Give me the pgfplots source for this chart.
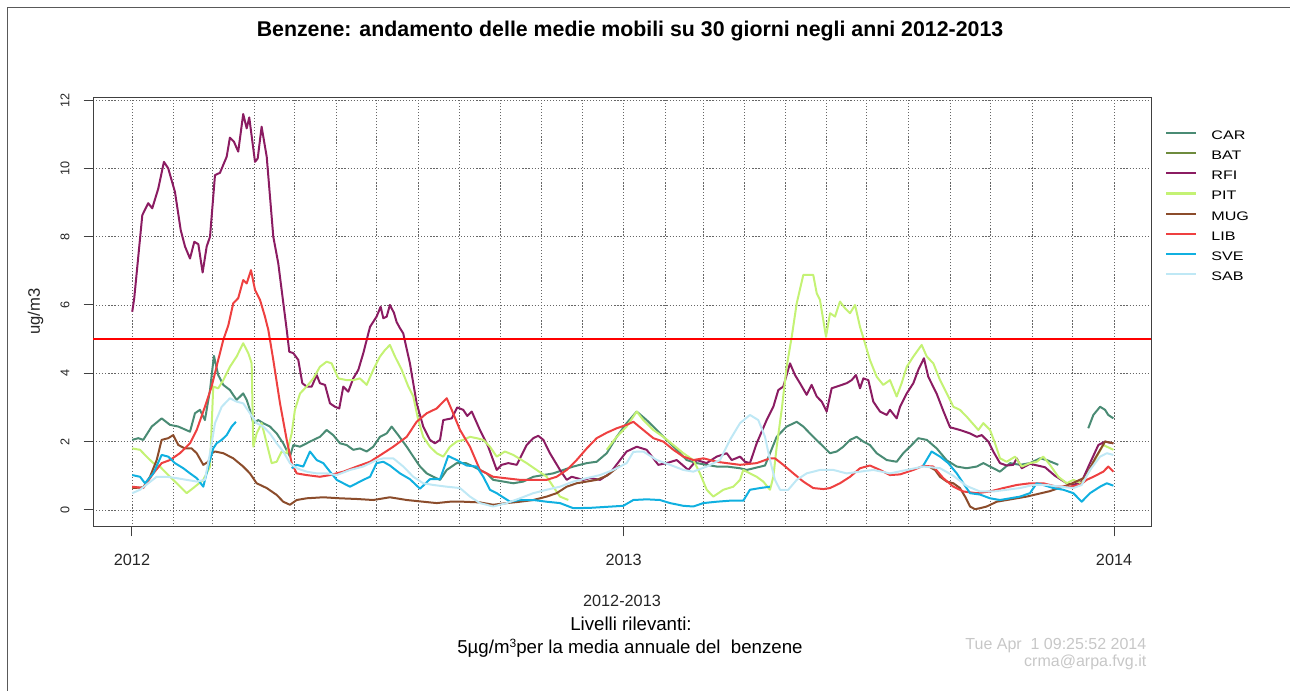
\documentclass[border=0pt]{standalone}
\usepackage{fontspec}
\setmainfont{Liberation Sans}
\newfontfamily\legfont[FakeStretch=1.3]{Liberation Sans}
\usepackage{pgfplots}
\pgfplotsset{compat=1.18}
\definecolor{cCAR}{HTML}{4A8B74}
\definecolor{cBAT}{HTML}{6E8B3D}
\definecolor{cRFI}{HTML}{8B1C62}
\definecolor{cPIT}{HTML}{C4F274}
\definecolor{cMUG}{HTML}{8B4C2B}
\definecolor{cLIB}{HTML}{EE4040}
\definecolor{cSVE}{HTML}{10B0E0}
\definecolor{cSAB}{HTML}{BFE8F5}
\begin{document}
\begin{tikzpicture}[x=0.75pt,y=0.75pt]
\path[use as bounding box] (0,0) rectangle (1290,691);
\draw[black!65, line width=0.75pt] (7,0) -- (7,683) -- (1290,683);
\begin{axis}[
  at={(69.75pt,123pt)}, anchor=south west,
  scale only axis, width=793.5pt, height=321.75pt,
  xmin=-29, xmax=758.5, ymin=-0.5, ymax=12.06,
  axis line style={black!75, line width=0.75pt},
  tick align=outside, xtick pos=bottom, ytick pos=left,
  major tick length=7pt, minor tick length=0pt,
  tick style={black!75, line width=0.75pt},
  xtick={0,366,731}, xticklabels={2012,2013,2014},
  minor xtick={31,60,91,121,152,182,213,244,274,305,335,397,425,456,486,517,547,578,609,639,670,700},
  ytick={0,2,4,6,8,10,12},
  xmajorgrids, xminorgrids, ymajorgrids,
  major grid style={black!60, line width=0.6pt, dash pattern=on 0.9pt off 1.4pt},
  minor grid style={black!60, line width=0.6pt, dash pattern=on 0.9pt off 1.4pt},
  /pgf/number format/assume math mode=true,
  xticklabel style={font=\fontsize{12.2}{14}\selectfont, text=black!85, inner sep=0pt, anchor=north, yshift=-13pt},
  yticklabel style={font=\fontsize{9.5}{11}\selectfont, text=black!85, inner sep=0pt, xshift=-10.5pt, rotate=90, anchor=south},
  unbounded coords=jump, no markers,
  every axis plot/.append style={line width=1.5pt, line join=round},
  legend style={at={(1,1)}, anchor=north west, xshift=10.5pt, yshift=-24.3pt,
    draw=none, fill=none, inner sep=0pt, outer sep=0pt,
    font=\legfont\fontsize{9.3}{10}\selectfont, row sep=8.45pt,
    nodes={inner sep=0pt, text height=6.7pt, text depth=0pt},
    /tikz/every odd column/.append style={column sep=10.7pt}},
  legend image code/.code={\draw[#1, line width=1.6pt] (0pt,1.5pt) -- (22.5pt,1.5pt);},
  legend cell align=left,
]
\addplot[cCAR] coordinates {(0.2,2.05)(4.7,2.10)(8.4,2.05)(14.7,2.44)(22.1,2.68)(28.3,2.49)(34.5,2.44)(43.2,2.29)(46.9,2.83)(50.6,2.93)(54.3,2.63)(58.1,3.51)(61.0,4.51)(64.2,3.95)(68.0,3.66)(72.9,3.51)(77.9,3.22)(82.8,3.41)(85.4,3.22)(87.8,2.93)(90.3,2.54)(94.0,2.63)(97.7,2.54)(102.7,2.44)(107.7,2.24)(112.6,1.95)(117.6,1.56)(120.1,1.90)(125.1,1.85)(132.5,2.0)(139.9,2.14)(144.9,2.34)(149.8,2.19)(154.8,1.95)(159.8,1.90)(164.7,1.76)(169.7,1.80)(174.7,1.71)(179.6,1.85)(184.6,2.14)(189.6,2.24)(193.3,2.44)(198.2,2.19)(204.5,1.85)(209.4,1.56)(214.4,1.27)(219.4,1.07)(224.3,0.97)(229.3,0.88)(234.3,1.17)(241.7,1.37)(248.6,1.37)(254.1,1.27)(264.0,1.07)(268.9,0.88)(276.4,0.83)(283.8,0.78)(291.3,0.83)(298.7,0.97)(306.2,1.02)(313.6,1.07)(321.1,1.17)(328.5,1.27)(338.5,1.37)(345.9,1.41)(353.4,1.66)(360.8,2.14)(368.2,2.54)(375.7,2.88)(383.1,2.63)(390.6,2.34)(398.0,2.05)(405.5,1.76)(412.9,1.46)(420.3,1.37)(427.8,1.32)(435.2,1.27)(442.7,1.27)(452.6,1.22)(457.6,1.17)(471.2,1.30)(479.9,2.14)(487.3,2.44)(494.8,2.58)(499.7,2.44)(507.1,2.14)(513.4,1.90)(519.6,1.66)(524.6,1.71)(529.5,1.85)(534.5,2.05)(539.4,2.14)(544.4,2.0)(549.3,1.90)(554.3,1.66)(561.8,1.46)(569.2,1.41)(574.1,1.66)(579.1,1.85)(585.3,2.10)(591.6,2.05)(599.0,1.80)(606.5,1.45)(613.9,1.27)(621.3,1.22)(628.8,1.27)(633.7,1.37)(646.1,1.12)(653.6,1.37)(661.0,1.32)(668.4,1.37)(675.9,1.51)(680.9,1.46)(689.5,1.32)(690,nan)(711.8,2.39)(715.6,2.78)(720.6,3.02)(724.3,2.93)(726.7,2.78)(730.5,2.68)};
\addlegendentry{CAR}
\addlegendimage{cBAT}
\addlegendentry{BAT}
\addplot[cRFI] coordinates {(0.2,5.80)(1.7,6.2)(7.7,8.63)(12.1,8.98)(15.1,8.83)(19.6,9.41)(23.8,10.19)(27.0,10.0)(32.0,9.31)(36.3,8.19)(39.5,7.71)(43.2,7.36)(46.4,7.85)(49.4,7.78)(52.6,6.95)(55.6,7.71)(58.1,8.0)(61.8,9.80)(65.5,9.87)(70.5,10.34)(72.9,10.9)(75.9,10.78)(79.1,10.49)(82.8,11.59)(85.4,11.17)(87.3,11.49)(91.6,10.19)(93.6,10.29)(96.5,11.22)(100.3,10.34)(105.2,8.0)(108.9,7.22)(115.2,5.27)(117.1,4.63)(120.1,4.59)(123.8,4.39)(126.8,3.71)(130.0,3.61)(133.8,3.61)(137.5,3.95)(139.9,3.71)(143.7,3.66)(147.4,3.12)(151.1,3.02)(154.3,2.97)(157.3,3.61)(161.0,3.46)(164.7,3.85)(168.5,4.10)(172.2,4.59)(177.2,5.36)(182.1,5.66)(185.1,5.95)(187.1,5.61)(189.6,5.66)(192.0,6.0)(195.0,5.77)(197.0,5.50)(199.5,5.32)(201.9,5.17)(206.9,4.29)(211.9,3.12)(216.8,2.44)(221.8,2.05)(225.5,1.95)(229.3,2.05)(231.7,2.63)(238.0,2.68)(242.1,3.0)(246.6,2.93)(249.6,2.75)(252.9,2.88)(259.0,2.34)(265.2,1.85)(271.5,1.17)(275.2,1.32)(280.1,1.37)(286.4,1.32)(293.8,1.90)(298.7,2.10)(302.4,2.17)(306.2,2.05)(311.1,1.66)(318.6,1.17)(323.6,0.88)(327.3,0.97)(335.9,0.88)(340.9,0.93)(348.4,0.88)(355.8,1.07)(363.3,1.46)(368.2,1.71)(375.7,1.85)(383.1,1.76)(391.8,1.32)(398.0,1.37)(405.5,1.46)(414.1,1.17)(420.3,1.46)(427.8,1.37)(435.2,1.56)(442.7,1.66)(446.4,1.46)(452.6,1.56)(456.3,1.41)(460.0,1.37)(465.0,1.95)(472.4,2.63)(477.4,3.02)(481.1,3.51)(484.8,3.61)(489.8,4.29)(493.5,3.95)(497.2,3.71)(502.2,3.37)(505.9,3.66)(509.7,3.32)(513.4,3.17)(517.1,2.88)(520.8,3.56)(528.3,3.66)(532.0,3.71)(535.7,3.80)(538.9,3.95)(541.9,3.56)(544.4,3.85)(548.1,3.80)(551.8,3.17)(556.8,2.88)(561.8,2.78)(564.2,2.93)(569.2,2.68)(571.7,3.02)(576.7,3.41)(581.6,3.71)(585.3,4.10)(589.5,4.44)(592.7,3.90)(599.0,3.40)(603.9,2.90)(608.9,2.42)(616.3,2.34)(623.8,2.24)(628.8,2.14)(632.5,2.19)(637.4,2.0)(641.1,1.71)(646.1,1.37)(651.1,1.30)(656.0,1.32)(658.6,1.51)(662.3,1.22)(668.4,1.35)(679.6,1.25)(687.0,1.0)(695.8,0.78)(700.7,0.73)(706.9,0.83)(713.1,1.37)(719.3,1.90)(724.3,2.0)(730.5,1.95)};
\addlegendentry{RFI}
\addplot[cPIT] coordinates {(0.2,1.80)(6.0,1.76)(10.9,1.56)(15.9,1.37)(20.8,1.27)(25.8,1.07)(33.3,0.78)(40.7,0.49)(45.6,0.64)(53.1,0.88)(58.1,1.27)(60.5,3.61)(64.2,3.56)(68.0,3.80)(72.9,4.19)(77.9,4.49)(82.8,4.88)(86.6,4.59)(89.1,4.29)(90.3,1.85)(92.8,2.24)(96.5,2.54)(100.3,1.95)(104.0,1.37)(107.7,1.41)(111.4,1.71)(115.2,1.66)(118.9,2.24)(121.3,2.93)(125.1,3.41)(130.0,3.61)(135.0,3.85)(139.9,4.19)(144.9,4.34)(148.6,4.29)(153.6,3.85)(159.8,3.80)(164.7,3.80)(169.7,3.85)(174.7,3.66)(179.6,4.10)(184.6,4.49)(188.3,4.68)(192.0,4.83)(195.8,4.49)(200.8,4.10)(205.7,3.61)(209.4,3.32)(213.1,2.63)(216.8,2.14)(221.8,1.85)(226.8,1.66)(231.7,1.56)(236.7,1.85)(241.7,2.0)(246.6,2.05)(251.6,2.14)(256.6,2.10)(261.5,2.05)(266.5,1.85)(271.5,1.56)(277.6,1.71)(283.8,1.61)(293.8,1.37)(301.2,1.17)(308.7,0.97)(313.6,0.68)(318.6,0.39)(324.8,0.29)(330,nan)(353.4,1.76)(360.8,2.14)(368.2,2.44)(375.7,2.88)(380.6,2.63)(388.1,2.34)(395.5,2.14)(403.0,1.90)(410.4,1.66)(417.8,1.46)(422.8,1.07)(427.8,0.59)(432.7,0.39)(440.2,0.59)(447.6,0.68)(452.6,0.88)(455.0,1.17)(460.0,1.07)(465.0,0.97)(469.9,0.83)(474.9,0.59)(477.4,0.97)(479.9,1.85)(483.6,2.93)(487.3,4.19)(491.1,5.07)(494.8,6.05)(499.7,6.88)(507.1,6.88)(509.7,6.34)(512.1,6.15)(516.6,5.07)(519.6,5.76)(523.3,5.66)(527.0,6.10)(530.8,5.90)(534.5,5.76)(538.2,6.0)(541.9,5.36)(545.6,4.88)(549.3,4.39)(554.3,3.90)(559.2,3.66)(564.2,3.80)(569.2,3.32)(572.9,3.71)(576.7,4.19)(581.6,4.49)(587.8,4.83)(591.6,4.49)(596.5,4.29)(601.5,3.80)(606.5,3.41)(611.4,3.02)(616.3,2.93)(621.3,2.73)(630.0,2.34)(633.7,2.54)(638.7,2.34)(642.4,1.95)(646.1,1.51)(651.1,1.41)(657.3,1.56)(662.3,1.27)(668.4,1.37)(673.4,1.41)(678.3,1.56)(683.3,1.32)(689.5,0.97)(695.8,0.78)(700.7,0.88)(706.9,0.78)(713.1,1.17)(718.1,1.56)(723.0,1.90)(730.5,1.76)};
\addlegendentry{PIT}
\addplot[cMUG] coordinates {(0.2,0.64)(8.4,0.66)(13.4,0.97)(18.4,1.46)(22.1,2.05)(27.0,2.10)(30.7,2.19)(34.5,1.90)(39.5,1.80)(44.4,1.80)(48.2,1.66)(53.1,1.32)(56.8,1.41)(59.3,1.66)(61.8,1.71)(68.0,1.66)(75.4,1.51)(82.8,1.27)(87.8,1.07)(92.8,0.78)(100.3,0.64)(107.7,0.44)(112.6,0.24)(117.6,0.15)(122.6,0.29)(130.0,0.34)(142.4,0.37)(154.8,0.34)(167.3,0.32)(179.6,0.29)(192.0,0.37)(204.5,0.29)(216.8,0.24)(226.8,0.20)(236.7,0.24)(246.6,0.24)(259.0,0.22)(268.9,0.15)(278.9,0.20)(288.8,0.24)(298.7,0.29)(308.7,0.39)(316.1,0.49)(323.6,0.68)(331.0,0.78)(338.5,0.83)(345.9,0.88)(353.4,1.0)(363.3,1.3)(364,nan)(594.0,1.25)(597.7,1.17)(601.5,0.97)(606.5,0.83)(611.4,0.78)(616.3,0.64)(620.1,0.39)(623.8,0.10)(627.5,0.02)(631.2,0.05)(636.2,0.10)(643.7,0.24)(651.1,0.29)(658.6,0.34)(666.0,0.39)(683.3,0.55)(698.2,0.75)(709.4,0.95)(716.8,1.5)(724.3,2.0)(730.5,1.95)};
\addlegendentry{MUG}
\addplot[cLIB] coordinates {(0.2,0.68)(8.4,0.64)(15.9,1.07)(22.1,1.37)(28.3,1.46)(35.7,1.66)(43.2,1.95)(48.2,2.34)(54.3,3.02)(59.3,3.61)(64.2,4.39)(68.0,4.98)(71.7,5.4)(75.4,6.05)(79.1,6.20)(82.8,6.73)(85.4,6.63)(88.6,7.02)(91.6,6.44)(95.3,6.15)(99.0,5.66)(101.5,5.27)(105.2,4.39)(110.2,3.12)(115.2,2.05)(118.9,1.37)(122.6,1.07)(130.0,1.02)(139.9,0.97)(147.4,1.02)(157.3,1.12)(167.3,1.27)(177.2,1.41)(187.1,1.66)(194.5,1.85)(204.5,2.14)(211.9,2.58)(219.4,2.83)(226.8,2.97)(234.3,3.27)(238.0,2.93)(244.2,2.34)(251.6,1.85)(259.0,1.17)(268.9,0.97)(277.6,0.93)(288.8,0.88)(308.7,0.88)(316.1,0.97)(323.6,1.17)(331.0,1.46)(338.5,1.80)(345.9,2.10)(353.4,2.26)(360.8,2.39)(368.2,2.49)(373.2,2.58)(380.6,2.34)(388.1,2.10)(395.5,2.0)(403.0,1.76)(410.4,1.56)(417.8,1.46)(425.3,1.51)(435.2,1.41)(442.7,1.37)(452.6,1.32)(465.0,1.37)(474.9,1.51)(478.6,1.51)(484.8,1.32)(492.3,1.07)(499.7,0.83)(507.1,0.64)(514.6,0.61)(519.6,0.64)(527.0,0.78)(534.5,0.97)(541.9,1.22)(549.3,1.30)(556.8,1.17)(564.2,1.02)(571.7,1.04)(581.6,1.17)(589.0,1.29)(596.5,1.27)(603.9,0.93)(611.4,0.68)(618.8,0.54)(628.8,0.49)(638.7,0.54)(648.6,0.64)(658.6,0.73)(668.4,0.78)(678.3,0.78)(688.3,0.68)(698.2,0.68)(705.7,0.73)(710.6,0.88)(715.6,0.97)(723.0,1.12)(726.7,1.27)(730.5,1.12)};
\addlegendentry{LIB}
\addplot[cSVE] coordinates {(0.2,1.02)(6.0,0.97)(9.7,0.78)(15.9,1.07)(22.1,1.61)(27.0,1.56)(32.0,1.37)(38.2,1.22)(43.2,1.07)(48.2,0.93)(53.1,0.68)(56.8,1.27)(60.5,1.80)(63.0,1.95)(66.8,2.05)(70.5,2.19)(74.2,2.44)(77.4,2.58)(78,nan)(118.9,1.22)(122.6,1.32)(127.5,1.27)(132.5,1.71)(137.5,1.46)(142.4,1.37)(147.4,1.12)(152.4,0.88)(157.3,0.78)(162.3,0.68)(167.3,0.78)(172.2,0.88)(177.2,0.97)(182.1,1.37)(187.1,1.41)(192.0,1.30)(199.5,1.07)(206.9,0.90)(214.4,0.62)(221.8,0.90)(229.3,0.90)(235.4,1.58)(241.7,1.46)(249.1,1.30)(256.6,1.27)(261.5,0.97)(266.5,0.59)(271.5,0.49)(281.4,0.24)(288.8,0.29)(298.7,0.29)(308.7,0.24)(318.6,0.20)(328.5,0.05)(340.9,0.06)(353.4,0.09)(365.7,0.12)(373.2,0.29)(383.1,0.31)(393.0,0.29)(400.5,0.20)(410.4,0.12)(417.8,0.10)(425.3,0.20)(435.2,0.24)(445.1,0.27)(455.0,0.27)(460.0,0.59)(467.5,0.64)(474.9,0.68)(476,nan)(589.0,1.30)(595.2,1.71)(601.5,1.56)(607.6,1.37)(613.9,1.07)(618.8,0.78)(623.8,0.49)(631.2,0.45)(638.7,0.34)(646.1,0.29)(653.6,0.34)(661.0,0.39)(668.4,0.49)(673.4,0.78)(678.3,0.73)(685.8,0.64)(693.2,0.59)(700.7,0.49)(706.9,0.24)(713.1,0.49)(720.6,0.68)(725.6,0.78)(730.5,0.71)};
\addlegendentry{SVE}
\addplot[cSAB] coordinates {(0.2,0.49)(6.0,0.59)(12.1,0.78)(18.4,0.97)(25.8,0.97)(33.3,0.93)(40.7,0.88)(48.2,0.83)(54.3,0.88)(58.1,1.66)(61.8,2.54)(66.8,3.02)(72.9,3.27)(77.9,3.17)(82.8,3.12)(87.8,2.83)(92.8,2.54)(97.7,2.44)(102.7,2.24)(107.7,1.95)(112.6,1.71)(117.6,1.37)(122.6,1.22)(130.0,1.12)(137.5,1.07)(144.9,1.07)(152.4,1.02)(162.3,1.17)(172.2,1.27)(182.1,1.46)(187.1,1.51)(194.5,1.51)(202.0,1.27)(209.4,0.97)(216.8,0.78)(224.3,0.73)(234.3,0.68)(244.2,0.64)(251.6,0.39)(259.0,0.20)(268.9,0.10)(278.9,0.20)(288.8,0.34)(298.7,0.49)(308.7,0.59)(318.6,0.68)(328.5,0.83)(338.5,0.93)(348.4,1.02)(358.3,1.17)(368.2,1.37)(373.2,1.70)(380.6,1.71)(390.6,1.46)(400.5,1.32)(410.4,1.17)(417.8,1.12)(427.8,1.27)(437.7,1.46)(445.1,2.05)(452.6,2.54)(460.0,2.78)(466.2,2.63)(471.2,2.14)(474.9,1.46)(478.6,0.88)(482.4,0.59)(488.5,0.59)(494.8,0.88)(502.2,1.07)(512.1,1.17)(522.0,1.17)(532.0,1.07)(541.9,1.12)(551.8,1.17)(564.2,1.07)(576.7,1.17)(589.0,1.27)(601.5,1.22)(611.4,1.0)(621.3,0.70)(631.2,0.54)(641.1,0.54)(651.1,0.59)(661.0,0.64)(670.9,0.73)(680.9,0.73)(690.8,0.68)(700.7,0.64)(706.9,0.73)(713.1,1.17)(720.6,1.56)(725.6,1.66)(730.5,1.61)};
\addlegendentry{SAB}
\addplot[red, line width=1.5pt, forget plot] coordinates {(-29,5) (758.5,5)};
\end{axis}
\node[anchor=base, font=\bfseries\fontsize{16}{19}\selectfont] at (630,654) {Benzene: andamento delle medie mobili su 30 giorni negli anni 2012-2013};
\node[anchor=base, rotate=90, font=\fontsize{12.5}{14}\selectfont, text=black!85] at (40,379.3) {ug/m3};
\node[anchor=base, font=\fontsize{12.2}{14}\selectfont, text=black!85] at (622,84.3) {2012-2013};
\node[anchor=base, font=\fontsize{14}{17}\selectfont] at (631,60.3) {Livelli rilevanti:};
\node[anchor=base, font=\fontsize{14}{17}\selectfont] at (630,37.7) {5\textmu g/m{\fontsize{9}{10}\selectfont\raisebox{4.5pt}{3}}per la media annuale del\ \ benzene};
\node[anchor=base east, font=\fontsize{12}{14}\selectfont, text=black!22] at (1151,41.7) {Tue Apr\ \ 1 09:25:52 2014};
\node[anchor=base east, font=\fontsize{12}{14}\selectfont, text=black!22] at (1151,24) {crma@arpa.fvg.it};
\end{tikzpicture}
\end{document}
